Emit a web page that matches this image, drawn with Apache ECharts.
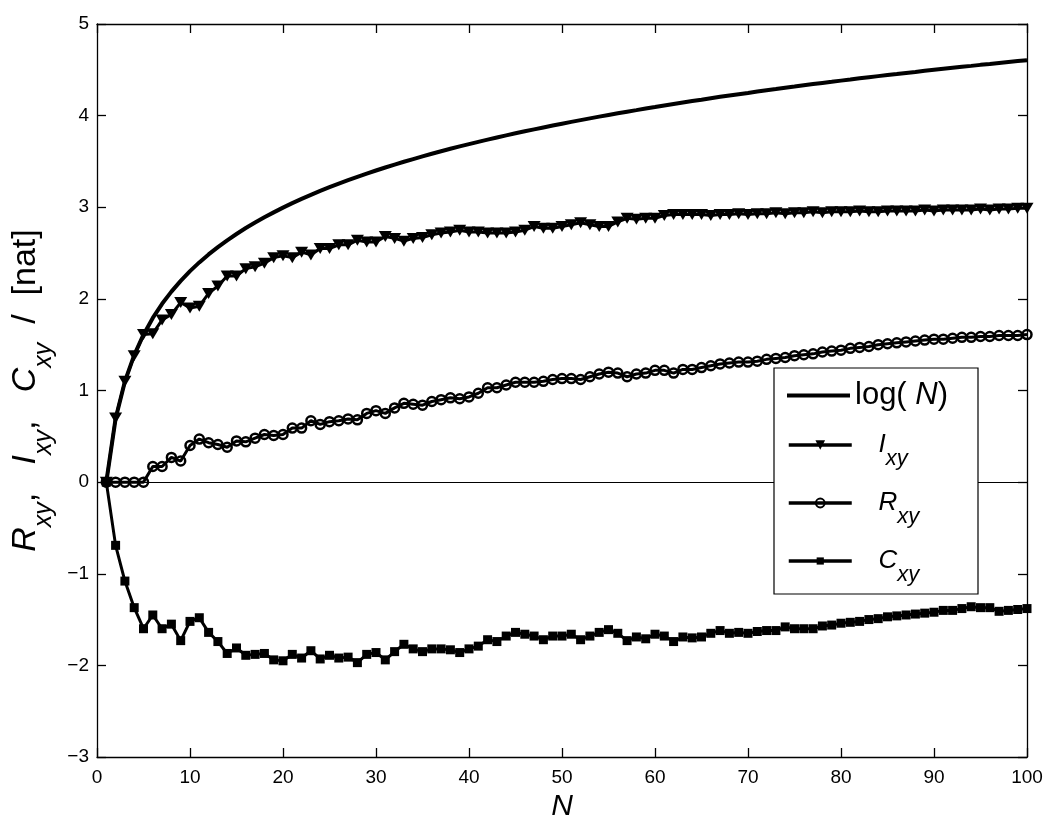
<!DOCTYPE html>
<html>
<head>
<meta charset="utf-8">
<title>log(N), Ixy, Rxy, Cxy</title>
<script src="https://cdn.jsdelivr.net/npm/echarts@6.0.0/dist/echarts.min.js"></script>
<style>
  html, body { margin: 0; padding: 0; background: #fff; }
  #chart { width: 1052px; height: 825px; }
</style>
</head>
<body>
<div id="chart"></div>
<script>
// N = 1..100
var nValues = [
  1, 2, 3, 4, 5, 6, 7, 8, 9, 10, 11, 12, 13, 14, 15, 16, 17, 18, 19, 20,
  21, 22, 23, 24, 25, 26, 27, 28, 29, 30, 31, 32, 33, 34, 35, 36, 37, 38, 39, 40,
  41, 42, 43, 44, 45, 46, 47, 48, 49, 50, 51, 52, 53, 54, 55, 56, 57, 58, 59, 60,
  61, 62, 63, 64, 65, 66, 67, 68, 69, 70, 71, 72, 73, 74, 75, 76, 77, 78, 79, 80,
  81, 82, 83, 84, 85, 86, 87, 88, 89, 90, 91, 92, 93, 94, 95, 96, 97, 98, 99, 100
];

// log(N)
var logN = [
  0, 0.693, 1.099, 1.386, 1.609, 1.792, 1.946, 2.079, 2.197, 2.303,
  2.398, 2.485, 2.565, 2.639, 2.708, 2.773, 2.833, 2.890, 2.944, 2.996,
  3.045, 3.091, 3.135, 3.178, 3.219, 3.258, 3.296, 3.332, 3.367, 3.401,
  3.434, 3.466, 3.497, 3.526, 3.555, 3.584, 3.611, 3.638, 3.664, 3.689,
  3.714, 3.738, 3.761, 3.784, 3.807, 3.829, 3.850, 3.871, 3.892, 3.912,
  3.932, 3.951, 3.970, 3.989, 4.007, 4.025, 4.043, 4.060, 4.078, 4.094,
  4.111, 4.127, 4.143, 4.159, 4.174, 4.190, 4.205, 4.220, 4.234, 4.248,
  4.263, 4.277, 4.290, 4.304, 4.317, 4.331, 4.344, 4.357, 4.369, 4.382,
  4.394, 4.407, 4.419, 4.431, 4.443, 4.454, 4.466, 4.477, 4.489, 4.500,
  4.511, 4.522, 4.533, 4.543, 4.554, 4.564, 4.575, 4.585, 4.595, 4.605
];

// I_xy
var iXY = [
  0, 0.70, 1.10, 1.38, 1.61, 1.62, 1.77, 1.83, 1.96, 1.90,
  1.92, 2.06, 2.14, 2.25, 2.25, 2.33, 2.35, 2.39, 2.45, 2.47,
  2.45, 2.51, 2.48, 2.55, 2.55, 2.59, 2.59, 2.64, 2.62, 2.62,
  2.68, 2.66, 2.63, 2.66, 2.67, 2.70, 2.72, 2.73, 2.75, 2.73,
  2.73, 2.72, 2.72, 2.72, 2.73, 2.75, 2.79, 2.77, 2.77, 2.79,
  2.81, 2.83, 2.81, 2.79, 2.79, 2.84, 2.88, 2.87, 2.88, 2.88,
  2.91, 2.92, 2.92, 2.92, 2.92, 2.91, 2.92, 2.92, 2.93, 2.92,
  2.93, 2.93, 2.94, 2.93, 2.94, 2.94, 2.95, 2.94, 2.95, 2.95,
  2.95, 2.96, 2.95, 2.95, 2.96, 2.96, 2.96, 2.96, 2.97, 2.96,
  2.97, 2.97, 2.97, 2.97, 2.98, 2.97, 2.98, 2.98, 2.99, 2.99
];

// R_xy
var rXY = [
  0, 0, 0, 0, 0, 0.17, 0.17, 0.27, 0.23, 0.40,
  0.47, 0.43, 0.41, 0.38, 0.45, 0.44, 0.48, 0.52, 0.51, 0.52,
  0.59, 0.59, 0.67, 0.63, 0.66, 0.67, 0.69, 0.68, 0.75, 0.78,
  0.75, 0.81, 0.86, 0.85, 0.84, 0.88, 0.90, 0.92, 0.91, 0.93,
  0.97, 1.03, 1.03, 1.06, 1.09, 1.09, 1.09, 1.10, 1.12, 1.13,
  1.13, 1.12, 1.15, 1.18, 1.20, 1.19, 1.15, 1.18, 1.19, 1.22,
  1.22, 1.19, 1.23, 1.23, 1.25, 1.27, 1.29, 1.30, 1.31, 1.31,
  1.32, 1.34, 1.35, 1.36, 1.38, 1.39, 1.40, 1.42, 1.43, 1.44,
  1.46, 1.47, 1.48, 1.50, 1.51, 1.52, 1.53, 1.54, 1.55, 1.56,
  1.56, 1.57, 1.58, 1.58, 1.59, 1.59, 1.60, 1.60, 1.60, 1.61
];

// C_xy
var cXY = [
  0, -0.69, -1.08, -1.37, -1.60, -1.45, -1.60, -1.55, -1.73, -1.52,
  -1.48, -1.64, -1.74, -1.87, -1.81, -1.89, -1.88, -1.87, -1.94, -1.95,
  -1.88, -1.92, -1.84, -1.93, -1.89, -1.92, -1.91, -1.97, -1.88, -1.86,
  -1.94, -1.85, -1.77, -1.82, -1.85, -1.82, -1.82, -1.83, -1.86, -1.82,
  -1.79, -1.72, -1.74, -1.68, -1.64, -1.66, -1.68, -1.72, -1.68, -1.68,
  -1.66, -1.72, -1.68, -1.64, -1.61, -1.65, -1.73, -1.69, -1.71, -1.66,
  -1.68, -1.74, -1.69, -1.70, -1.69, -1.65, -1.62, -1.65, -1.64, -1.65,
  -1.63, -1.62, -1.62, -1.58, -1.60, -1.60, -1.60, -1.57, -1.56, -1.54,
  -1.53, -1.52, -1.50, -1.49, -1.47, -1.46, -1.45, -1.44, -1.43, -1.42,
  -1.40, -1.40, -1.38, -1.36, -1.37, -1.37, -1.41, -1.40, -1.39, -1.38
];

// axis ranges / tick steps
var xMin = 0, xMax = 100, xStep = 10;
var yMin = -3, yMax = 5, yStep = 1;

var FONT = '"Liberation Sans", Arial, Helvetica, sans-serif';

function pairs(vals) {
  return nValues.map(function (n, i) { return [n, vals[i]]; });
}

var axisLine = { show: true, onZero: false, lineStyle: { color: '#000', width: 1.3 } };
var axisTick = { show: true, inside: true, length: 9, lineStyle: { color: '#000', width: 1.3 } };

var chart = echarts.init(document.getElementById('chart'), null, { renderer: 'canvas' });

// rich text for the subscripted legend entries
var subRich = {
  color: '#000', fontFamily: FONT,
  rich: {
    b: { fontSize: 26, fontStyle: 'italic', lineHeight: 50, fontFamily: FONT, color: '#000' },
    s: { fontSize: 22, fontStyle: 'italic', lineHeight: 22, verticalAlign: 'bottom', fontFamily: FONT, color: '#000' }
  }
};
var legendLine = { color: '#000', width: 3.5 };

var option = {
  animation: false,
  backgroundColor: '#fff',
  grid: { left: 97, right: 25, top: 24, bottom: 68, containLabel: false, outerBoundsMode: 'none' },
  xAxis: [{
    type: 'value', min: xMin, max: xMax, interval: xStep,
    axisLine: axisLine, axisTick: axisTick, splitLine: { show: false },
    axisLabel: { color: '#000', fontSize: 19, fontFamily: FONT, margin: 11 },
    name: 'N', nameLocation: 'middle', nameGap: 29,
    nameTextStyle: { color: '#000', fontSize: 30, fontStyle: 'italic', fontFamily: FONT }
  }, {
    type: 'value', position: 'top', min: xMin, max: xMax, interval: xStep,
    axisLine: axisLine, axisTick: axisTick, splitLine: { show: false },
    axisLabel: { show: false }
  }],
  yAxis: [{
    type: 'value', min: yMin, max: yMax, interval: yStep,
    axisLine: axisLine, axisTick: axisTick, splitLine: { show: false },
    axisLabel: {
      color: '#000', fontSize: 19, fontFamily: FONT, margin: 8,
      formatter: function (v) { return String(v).replace('-', '\u2212'); }
    },
    name: '{m|R}{s|xy}{p|,   }{m|I}{s|xy}{p|,   }{m|C}{s|xy}{p|  /  [nat]}',
    nameLocation: 'middle', nameGap: 40,
    nameTextStyle: {
      color: '#000', fontFamily: FONT,
      rich: {
        m: { fontSize: 34, fontStyle: 'italic', lineHeight: 62, fontFamily: FONT, color: '#000' },
        s: { fontSize: 25, fontStyle: 'italic', lineHeight: 25, verticalAlign: 'bottom', fontFamily: FONT, color: '#000' },
        p: { fontSize: 34, lineHeight: 62, fontFamily: FONT, color: '#000' }
      }
    }
  }, {
    type: 'value', position: 'right', min: yMin, max: yMax, interval: yStep,
    axisLine: axisLine, axisTick: axisTick, splitLine: { show: false },
    axisLabel: { show: false }
  }],
  graphic: [{
    type: 'rect', z: 10,
    shape: { x: 774, y: 368, width: 204, height: 226 },
    style: { fill: '#fff', stroke: '#000', lineWidth: 1.2 }
  }],
  legend: [{
    z: 20, selectedMode: false, padding: 0, left: 787, top: 380,
    itemWidth: 63, itemHeight: 4,
    data: [{ name: 'logN', icon: 'rect' }],
    formatter: function () { return '{a|log( }{ai|N}{a|)}'; },
    textStyle: {
      color: '#000', fontFamily: FONT,
      rich: {
        a: { fontSize: 31, lineHeight: 34, fontFamily: FONT, color: '#000' },
        ai: { fontSize: 31, lineHeight: 34, fontStyle: 'italic', fontFamily: FONT, color: '#000' }
      }
    }
  }, {
    z: 20, selectedMode: false, padding: 0, left: 787, top: 432,
    itemWidth: 63, itemHeight: 12, lineStyle: legendLine,
    data: ['Ixy'], textStyle: subRich,
    formatter: function () { return '{b|   I}{s|xy}'; }
  }, {
    z: 20, selectedMode: false, padding: 0, left: 787, top: 490,
    itemWidth: 63, itemHeight: 11, lineStyle: legendLine,
    data: ['Rxy'], textStyle: subRich,
    formatter: function () { return '{b|   R}{s|xy}'; }
  }, {
    z: 20, selectedMode: false, padding: 0, left: 787, top: 548,
    itemWidth: 63, itemHeight: 9, lineStyle: legendLine,
    data: ['Cxy'], textStyle: subRich,
    formatter: function () { return '{b|   C}{s|xy}'; }
  }],
  series: [{
    name: 'logN', type: 'line', data: pairs(logN),
    symbol: 'none', color: '#000',
    lineStyle: { color: '#000', width: 4 },
    markLine: {
      silent: true, symbol: ['none', 'none'], label: { show: false },
      lineStyle: { color: '#000', width: 1, type: 'solid' },
      data: [{ yAxis: 0 }]
    }
  }, {
    name: 'Ixy', type: 'line', data: pairs(iXY),
    symbol: 'triangle', symbolRotate: 180, symbolSize: [13, 11], showAllSymbol: true,
    color: '#000',
    lineStyle: { color: '#000', width: 3 },
    itemStyle: { color: '#000' }
  }, {
    name: 'Rxy', type: 'line', data: pairs(rXY),
    symbol: 'circle', symbolSize: 9, showAllSymbol: true,
    color: '#000',
    lineStyle: { color: '#000', width: 3 },
    itemStyle: { color: 'rgba(255,255,255,0)', borderColor: '#000', borderWidth: 2.5 }
  }, {
    name: 'Cxy', type: 'line', data: pairs(cXY),
    symbol: 'rect', symbolSize: 9, showAllSymbol: true,
    color: '#000',
    lineStyle: { color: '#000', width: 3 },
    itemStyle: { color: '#000' }
  }]
};

chart.setOption(option);
</script>
</body>
</html>
